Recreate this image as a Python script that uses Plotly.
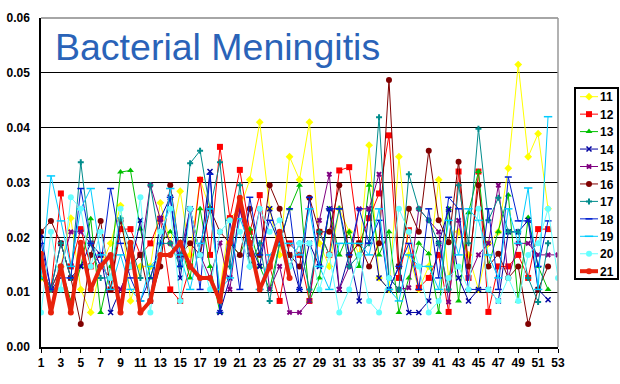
import plotly.graph_objects as go

weeks = list(range(1, 54))
s11 = [.0126,.0105,.0147,.0235,.0105,.0063,.0147,.0189,.0258,.0084,.0147,.0147,.0263,.0189,.0284,.0168,.0305,.0252,.0105,.0235,.0252,.0305,.041,.0252,.0168,.0347,.0305,.041,.0189,.0147,.0252,.021,.0168,.0368,.0126,.0105,.0347,.0168,.0105,.0147,.0305,.0126,.021,.0168,.0105,.0189,.021,.0326,.0515,.0347,.0389,.0252]
s12 = [.0147,.0105,.028,.0147,.0215,.0147,.0168,.0105,.0215,.0215,.0168,.0189,.0234,.0105,.0084,.0147,.0305,.0168,.0365,.0235,.0323,.021,.0277,.0147,.0084,.0189,.0168,.0084,.021,.0168,.0322,.0328,.0189,.0235,.028,.0386,.0126,.0213,.0108,.0126,.0168,.0064,.032,.0126,.032,.0064,.0147,.0147,.0168,.0126,.0215,.0215]
s13 = [.0126,.0105,.0147,.0084,.0147,.0234,.0063,.0147,.0319,.0322,.0215,.0126,.0189,.021,.0189,.0126,.0252,.0147,.0063,.0189,.0168,.0215,.0147,.0105,.0189,.0252,.0295,.0084,.0126,.0252,.0168,.021,.0147,.0295,.0168,.021,.0063,.0126,.0189,.017,.0063,.0252,.0084,.0245,.032,.0147,.021,.0277,.0084,.0236,.0147,.0105]
s14 = [.0205,.0105,.0189,.0126,.0147,.0189,.0168,.0063,.0105,.0147,.0231,.0084,.0234,.0273,.0126,.0252,.0168,.032,.0063,.0126,.0252,.0189,.0147,.0252,.0189,.0168,.0105,.0189,.0147,.0252,.0105,.0168,.0084,.0252,.0126,.0105,.0147,.0063,.0063,.0084,.0189,.0251,.0126,.0084,.0105,.0105,.0084,.021,.021,.0231,.0105,.0086]
s15 = [.0147,.0105,.0147,.021,.021,.0189,.0147,.0126,.0105,.0147,.0168,.0295,.0234,.0189,.0168,.0252,.0168,.0126,.019,.0105,.0252,.0168,.0252,.0105,.0147,.0063,.0063,.0084,.0231,.0315,.0105,.0147,.0252,.0252,.0315,.0126,.0105,.0108,.0252,.0231,.021,.0082,.0231,.0126,.0168,.0189,.0295,.0126,.0189,.0189,.0168,.0168,.0168]
s16 = [.021,.023,.0189,.0126,.0042,.0168,.023,.0105,.023,.0147,.0168,.0084,.0147,.0295,.0168,.0189,.0168,.0252,.021,.0189,.0168,.0252,.0168,.0295,.0252,.0168,.0147,.0272,.021,.021,.0295,.0168,.0189,.0147,.0189,.0487,.0147,.0252,.021,.0358,.0231,.0191,.0338,.0147,.0295,.0147,.017,.0126,.0147,.0042,.0105,.0147]
s17 = [.0147,.0105,.0189,.0126,.0337,.0189,.0126,.0126,.0235,.0189,.0126,.0295,.0189,.0189,.0147,.0335,.0358,.0252,.0337,.0147,.0295,.0147,.0189,.0084,.0189,.0147,.0189,.0105,.021,.0168,.0252,.0147,.0168,.0189,.0419,.0126,.0105,.0315,.0252,.0231,.0189,.0105,.0295,.0189,.0398,.0231,.0272,.021,.021,.0126,.0082,.0189]
s18 = [.0189,.0105,.0126,.0126,.0289,.0189,.0147,.0289,.0189,.0126,.0084,.0126,.0189,.0273,.0147,.0252,.0105,.0315,.0063,.0231,.0105,.0273,.0168,.0231,.0189,.0252,.0105,.0273,.0147,.0252,.0252,.0168,.0252,.0189,.0231,.0105,.0147,.0189,.0105,.0252,.0126,.0273,.0252,.0105,.0105,.0252,.0105,.031,.023,.023,.0147,.023]
s19 = [.0126,.0312,.023,.0147,.0252,.0289,.0168,.0105,.0168,.0105,.0084,.0147,.0168,.0289,.0168,.0105,.0189,.0252,.0105,.0126,.0234,.0189,.0105,.0168,.0189,.0189,.0168,.0252,.0147,.0105,.0189,.0189,.0189,.0168,.0252,.0105,.0084,.0168,.0147,.0147,.0105,.0231,.0168,.0252,.0231,.0168,.0126,.0252,.0189,.029,.0105,.042]
s20 = [.0063,.0210,.0105,.0273,.0252,.0147,.0210,.0126,.0252,.0147,.0273,.0063,.0210,.0252,.0084,.0252,.0168,.0105,.0210,.0231,.0210,.0147,.0252,.0210,.0231,.0147,.0189,.0189,.0105,.0168,.0063,.0105,.0168,.0084,.0063,.0126,.0252,.021,.0147,.0063,.0084,.0126,.0147,.0105,.0252,.0105,.0084,.0126,.0084,.0168,.0189,.0252,.0126]
s21 = [.017,.0063,.0147,.0063,.019,.0105,.0147,.0168,.0063,.019,.0063,.0084,.0168,.0168,.019,.0147,.0126,.0126,.0084,.019,.0272,.019,.0105,.0147,.021,.0126]

series = [
    ("11", s11, "#ffff00", "diamond", 6, 1),
    ("12", s12, "#ff0000", "square", 6, 1),
    ("13", s13, "#00c000", "triangle-up", 6, 1),
    ("14", s14, "#0000a0", "x-thin", 5, 1),
    ("15", s15, "#800080", "x", 5, 1),
    ("16", s16, "#800000", "circle", 6, 1),
    ("17", s17, "#008c8c", "cross", 5, 1),
    ("18", s18, "#0020d0", "line-ew", 5, 1),
    ("19", s19, "#00ccff", "line-ew", 6, 1),
    ("20", s20, "#66ffff", "circle", 6, 1),
    ("21", s21, "#e8220c", "circle", 6, 4),
]

fig = go.Figure()
for name, vals, col, sym, size, w in series:
    fig.add_trace(go.Scatter(
        x=weeks[:len(vals)], y=vals, name=name, mode="lines+markers",
        line=dict(color=col, width=w),
        marker=dict(color=col, symbol=sym, size=size, line=dict(color=col, width=1.5 if sym.endswith(("thin", "ew")) else 0)),
    ))

font = "Liberation Sans, Arial, sans-serif"
fig.update_layout(
    width=620, height=384, autosize=False,
    margin=dict(l=41, r=62, t=18, b=37),
    paper_bgcolor="white", plot_bgcolor="white",
    font=dict(family=font, size=12, color="black", weight="bold"),
    showlegend=True,
    legend=dict(x=0.88, xanchor="left", y=0.8, yanchor="top",
                bordercolor="black", borderwidth=1.5, bgcolor="white",
                tracegroupgap=0, font=dict(size=12, family=font, weight="bold")),
    annotations=[dict(text="Bacterial Meningitis", x=12/517, y=1 - (47-18)/329, xref="paper", yref="paper",
                      xanchor="left", yanchor="middle", showarrow=False,
                      font=dict(size=37.5, color="#2a63b8", family=font, weight="normal"))],
)
fig.update_xaxes(range=[1, 53], tickmode="array", tickvals=weeks[::2], ticktext=[str(v) for v in weeks[::2]],
                 ticks="outside", ticklen=4, tickcolor="black", showgrid=False, zeroline=False, automargin=False,
                 showline=True, linecolor="black", linewidth=1.5, tickfont=dict(size=12))
fig.update_yaxes(range=[0, 0.06], tickmode="array", tickvals=[0, .01, .02, .03, .04, .05, .06],
                 ticktext=["0.00", "0.01", "0.02", "0.03", "0.04", "0.05", "0.06"],
                 showgrid=True, gridcolor="black", gridwidth=1, zeroline=False, automargin=False,
                 showline=True, linecolor="black", linewidth=1.5, tickfont=dict(size=12),
                 ticks="outside", ticklen=7, tickcolor="white")
fig.add_shape(type="line", xref="paper", yref="paper", x0=0, x1=1, y0=1, y1=1, line=dict(color="#888888", width=1.5))
fig.add_shape(type="line", xref="paper", yref="paper", x0=1, x1=1, y0=0, y1=1, line=dict(color="#999999", width=1.5))

# Remove the page margin, and compact the native legend to the reference's tighter box
# (plotly has a 19px row / 30px sample minimum).
post = """
document.body.style.margin = '0';
try {
  var lg = document.querySelector('.legend');
  lg.setAttribute('transform', 'translate(574,87)');
  var bg = lg.querySelector('rect.bg');
  bg.setAttribute('width', 43); bg.setAttribute('height', 191);
  var sb = lg.querySelector('.scrollbox');
  sb.removeAttribute('clip-path');
  lg.querySelectorAll('g.traces').forEach(function (t, i) {
    t.setAttribute('transform', 'translate(0,' + (9.7 + 17.45 * i) + ')');
    var tx = t.querySelector('text.legendtext'); if (tx) tx.setAttribute('x', 26);
    t.querySelectorAll('.legendlines path').forEach(function (p) { p.setAttribute('d', 'M6,0h18'); });
    t.querySelectorAll('.legendpoints path').forEach(function (p) { p.setAttribute('transform', 'translate(15,0)'); });
  });
} catch (e) { console.log(e); }
"""
fig.write_html("out.html", post_script=post, config={"displayModeBar": False})
